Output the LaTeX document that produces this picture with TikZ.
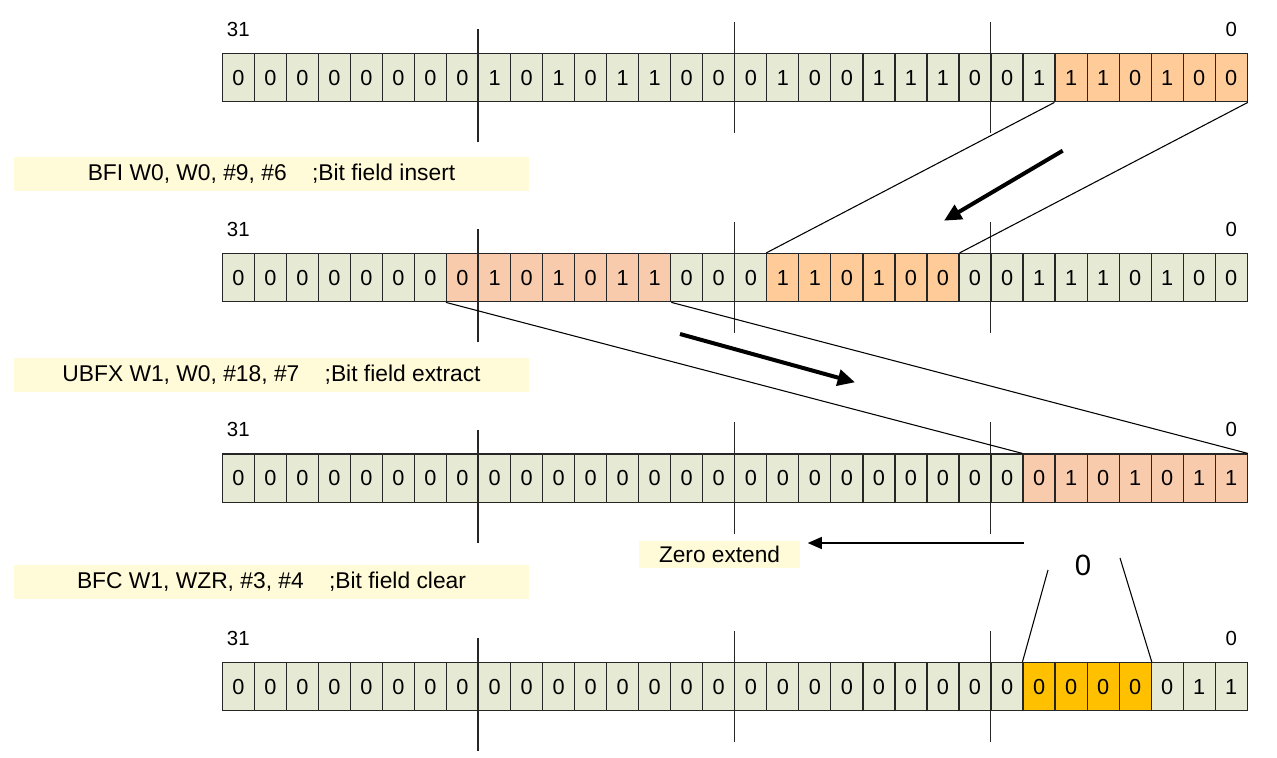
\documentclass[tikz,border=0pt]{standalone}
\usepackage{fontspec}
\setmainfont{Liberation Sans}
\usetikzlibrary{arrows.meta,calc}
\definecolor{cg}{HTML}{E6EAD4}
\definecolor{co}{HTML}{FFCC99}
\definecolor{cs}{HTML}{F8CBAD}
\definecolor{cy}{HTML}{FFC000}
\definecolor{capfill}{HTML}{FFFAD7}
\tikzset{
  bitcell/.style={draw=black!85, line width=0.9pt, minimum width=24.02pt, minimum height=36.2pt, inner sep=0pt, font=\fontsize{16.3}{19}\selectfont},
  marker/.style={draw=black!85, line width=0.9pt},
  capbox/.style={fill=capfill, minimum width=386pt, minimum height=25.5pt, inner sep=0pt, font=\fontsize{17.1}{20}\selectfont},
  zbox/.style={fill=capfill, minimum width=121pt, minimum height=20pt, inner sep=0pt, font=\fontsize{17}{20}\selectfont},
  poslabel/.style={font=\fontsize{15.3}{18}\selectfont, inner sep=0pt},
  link/.style={line width=0.8pt},
  bigarrow/.style={line width=3pt, -{Triangle[length=13pt,width=12pt]}},
  zarrow/.style={line width=0.9pt, -{Triangle[length=10.5pt,width=9pt]}},
}
\newcommand\regrow[4]{%
  \foreach \bv [count=\i from 0] in {#3} {%
    \gdef\fc{cg}%
    \foreach \ra/\rb/\rc in {#4} {%
      \ifnum\i<\ra\relax\else\ifnum\i>\rb\relax\else\xdef\fc{\rc}\fi\fi
    }%
    \node[bitcell, fill=\fc] (#1-\i) at ({238.315+32.03*\i},{#2+24.15}) {\bv};
  }%
}
\begin{document}
\begin{tikzpicture}[x=0.75pt,y=-0.75pt]
\useasboundingbox (0,0) rectangle (1277,757);
% registers
\regrow{r1}{53.5}{0,0,0,0,0,0,0,0,1,0,1,0,1,1,0,0,0,1,0,0,1,1,1,0,0,1,1,1,0,1,0,0}{26/31/co}
\regrow{r2}{253.5}{0,0,0,0,0,0,0,0,1,0,1,0,1,1,0,0,0,1,1,0,1,0,0,0,0,1,1,1,0,1,0,0}{7/13/cs,17/22/co}
\regrow{r3}{454}{0,0,0,0,0,0,0,0,0,0,0,0,0,0,0,0,0,0,0,0,0,0,0,0,0,0,1,0,1,0,1,1}{25/31/cs}
\regrow{r4}{662.5}{0,0,0,0,0,0,0,0,0,0,0,0,0,0,0,0,0,0,0,0,0,0,0,0,0,0,0,0,0,0,1,1}{25/28/cy}
% byte markers and bit-position labels
\foreach \r in {r1,r2,r3,r4} {
  \draw[marker] ($(\r-8.north west)+(0,-23.5)$) -- ($(\r-8.south west)+(0,40)$);
  \draw[marker] ($(\r-16.north west)+(0,-31)$) -- ($(\r-16.south west)+(0,31)$);
  \draw[marker] ($(\r-24.north west)+(0,-31)$) -- ($(\r-24.south west)+(0,31)$);
  \node[poslabel] (\r-hi) at ($(\r-0.center)+(0,-48.5)$) {31};
  \node[poslabel] (\r-lo) at ($(\r-31.center)+(0,-48.5)$) {0};
}
% captions
\node[capbox] (cap1) at (271.5,174) {BFI W0, W0, \#9, \#6\ \ \ \ ;Bit field insert};
\node[capbox] (cap2) at (271.5,375) {UBFX W1, W0, \#18, \#7\ \ \ \ ;Bit field extract};
\node[capbox] (cap3) at (271.5,582) {BFC W1, WZR, \#3, \#4\ \ \ \ ;Bit field clear};
% field links
\draw[link] (r1-26.south west) -- (r2-17.north west);
\draw[link] (r1-31.south east) -- (r2-22.north east);
\draw[link] (r2-7.south west) -- (r3-25.north west);
\draw[link] (r2-13.south east) -- (r3-31.north east);
% direction arrows
\coordinate (a1s) at (1062.7,150.7);
\coordinate (a1e) at (944,220.7);
\draw[bigarrow] (a1s) -- (a1e);
\coordinate (a2s) at (680,334);
\coordinate (a2e) at (855,382.3);
\draw[bigarrow] (a2s) -- (a2e);
% zero extend
\node[zbox] (zx) at (719.5,554.5) {Zero extend};
\coordinate (zs) at (1024,543);
\draw[zarrow, shorten >=5.5pt] (zs) -- (zs -| zx.east);
% cleared field
\node[font=\fontsize{22}{26}\selectfont, inner sep=0pt] (bigzero) at (1083,565) {0};
\coordinate (bzl) at (1048,570);
\coordinate (bzr) at (1120,558);
\draw[link] (bzl) -- (r4-25.north west);
\draw[link] (bzr) -- (r4-28.north east);
\end{tikzpicture}
\end{document}
